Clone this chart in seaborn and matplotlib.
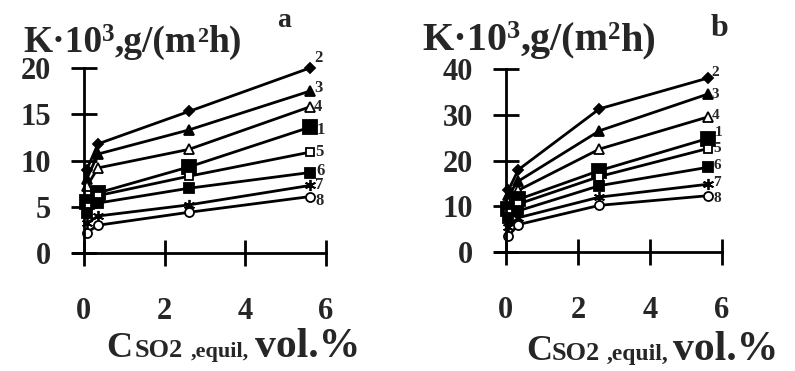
import matplotlib
matplotlib.use("Agg")
import matplotlib.pyplot as plt
import seaborn as sns
import pandas as pd

# SO2 equilibrium concentration, vol.%
conc = [0.07, 0.35, 2.6, 5.6]

# curve numbers, in the order they are drawn (top to bottom)
curves = ["2", "3", "4", "1", "5", "6", "7", "8"]

# panel a: K*10^3, g/(m2 h)
k_a_2 = [9.0, 11.8, 15.3, 20.0]
k_a_3 = [8.0, 10.7, 13.3, 17.5]
k_a_4 = [7.2, 9.2, 11.2, 15.8]
k_a_1 = [5.5, 6.5, 9.3, 13.6]
k_a_5 = [5.0, 6.2, 8.3, 10.9]
k_a_6 = [4.3, 5.4, 7.0, 8.7]
k_a_7 = [3.2, 4.0, 5.2, 7.3]
k_a_8 = [2.2, 3.0, 4.4, 6.1]

# panel b: K*10^3, g/(m2 h)
k_b_2 = [13.5, 18.0, 31.3, 38.0]
k_b_3 = [12.5, 15.5, 26.5, 34.5]
k_b_4 = [11.0, 13.5, 22.5, 29.5]
k_b_1 = [9.5, 11.5, 17.8, 24.8]
k_b_5 = [8.5, 10.5, 16.5, 22.6]
k_b_6 = [7.5, 9.0, 14.5, 18.5]
k_b_7 = [5.5, 7.5, 12.0, 14.8]
k_b_8 = [3.5, 6.0, 10.2, 12.3]

a_ticks_y = [0, 5, 10, 15, 20]
b_ticks_y = [0, 10, 20, 30, 40]
ticks_x = [0, 2, 4, 6]

panel_a = dict(zip(curves, [k_a_2, k_a_3, k_a_4, k_a_1, k_a_5, k_a_6, k_a_7, k_a_8]))
panel_b = dict(zip(curves, [k_b_2, k_b_3, k_b_4, k_b_1, k_b_5, k_b_6, k_b_7, k_b_8]))

# marker style for each curve: (marker, size, filled)
marker_style = {
    "2": ("D", 5.5, True),
    "3": ("^", 7.5, True),
    "4": ("^", 7.5, False),
    "1": ("s", 10.5, True),
    "5": ("s", 5.5, False),
    "6": ("s", 7.0, True),
    "7": ((6, 2, 0), 8.0, False),
    "8": ("o", 6.5, False),
}

sns.set_style("white")
SERIF = ["Liberation Serif", "DejaVu Serif"]
plt.rcParams["font.family"] = SERIF
plt.rcParams["font.weight"] = "bold"

W, H = 795, 371
fig = plt.figure(figsize=(W / 100, H / 100), dpi=100)


def px_axes(x0, x1, y_top, y_bot):
    return fig.add_axes([x0 / W, 1 - y_bot / H, (x1 - x0) / W, (y_bot - y_top) / H])


ax_a = px_axes(73, 326, 68, 253)
ax_b = px_axes(495, 722, 69, 252)

# curve-number label offsets (points) from each curve's last marker
label_offsets_a = {"2": (3, 7), "3": (3, 2), "4": (3, 0), "1": (5, -2),
                   "5": (4, 0), "6": (5, 1), "7": (4, 0), "8": (4, -3)}
label_offsets_b = {"2": (3, 4), "3": (3, 0), "4": (3, 1), "1": (5, 4),
                   "5": (4, 0), "6": (4, 1), "7": (4, 1.5), "8": (4, -2)}


def draw_panel(ax, data, ylim, yticks, xmin, offsets, label_size):
    for name in curves:
        vals = data[name]
        mk, ms, filled = marker_style[name]
        df = pd.DataFrame({"c": conc, "k": vals})
        sns.lineplot(data=df, x="c", y="k", ax=ax, color="black", lw=2.0,
                     marker=mk, markersize=ms, sort=False,
                     markerfacecolor="black" if filled else "white",
                     markeredgecolor="black", markeredgewidth=1.3,
                     clip_on=False)
        dx, dy = offsets[name]
        ax.annotate(name, xy=(conc[-1], vals[-1]), xytext=(dx, dy),
                    textcoords="offset points", ha="left", va="center",
                    fontsize=label_size, fontweight="bold", annotation_clip=False)
    ax.set_xlim(xmin, 6)
    ax.set_ylim(*ylim)
    ax.set_xticks(ticks_x)
    ax.set_yticks(yticks)
    ax.set_xlabel("")
    ax.set_ylabel("")
    for s in ("top", "right"):
        ax.spines[s].set_visible(False)
    ax.spines["left"].set_position(("data", 0))
    ax.spines["bottom"].set_position(("data", 0))
    for s in ("left", "bottom"):
        ax.spines[s].set_linewidth(2.0)
        ax.spines[s].set_color("black")
    ax.tick_params(axis="both", direction="inout", length=19, width=2.0,
                   color="black", labelsize=22, bottom=True, left=True)
    ax.tick_params(axis="x", pad=22)
    ax.tick_params(axis="y", pad=14)
    for t in ax.get_xticklabels() + ax.get_yticklabels():
        t.set_fontweight("bold")
    ax.patch.set_alpha(0)


draw_panel(ax_a, panel_a, (0, 20), a_ticks_y, -0.27, label_offsets_a, 12)
draw_panel(ax_b, panel_b, (0, 40), b_ticks_y, -0.3, label_offsets_b, 11)

renderer = fig.canvas.get_renderer()


def chain_text(x, y, parts):
    """Write text pieces one after another; x, y in pixels from top-left."""
    for s, size, dy in parts:
        t = fig.text(x / W, 1 - (y - dy) / H, s, fontsize=size,
                     fontweight="bold", ha="left", va="baseline")
        bb = t.get_window_extent(renderer=renderer)
        x += bb.width


def placed_text(y, parts):
    """Write text pieces, each starting at its own x; x, y in pixels from top-left."""
    for x, s, size in parts:
        fig.text(x / W, 1 - y / H, s, fontsize=size, fontweight="bold",
                 ha="left", va="baseline")


# y-axis titles and panel letters
chain_text(23, 52, [("K·10", 27, 0), ("3", 18, 11), (",g/(m", 27, 0),
                    ("2", 16, 10), ("h)", 27, 0)])
chain_text(422, 50, [("K·10", 29, 0), ("3", 19, 12), (",g/(m", 29, 0),
                     ("2", 18, 11), ("h)", 29, 0)])
fig.text(277 / W, 1 - 27 / H, "a", fontsize=20, fontweight="bold", va="baseline")
fig.text(711 / W, 1 - 36 / H, "b", fontsize=23, fontweight="bold", va="baseline")

# x-axis titles
placed_text(357, [(106, "C", 26), (135, "SO2", 19), (191, ",equil,", 16), (255, "vol.%", 30)])
placed_text(360, [(526, "C", 26), (552, "SO2", 19), (607, ",equil,", 17), (673, "vol.%", 30)])

fig.savefig("out.png", dpi=100)
